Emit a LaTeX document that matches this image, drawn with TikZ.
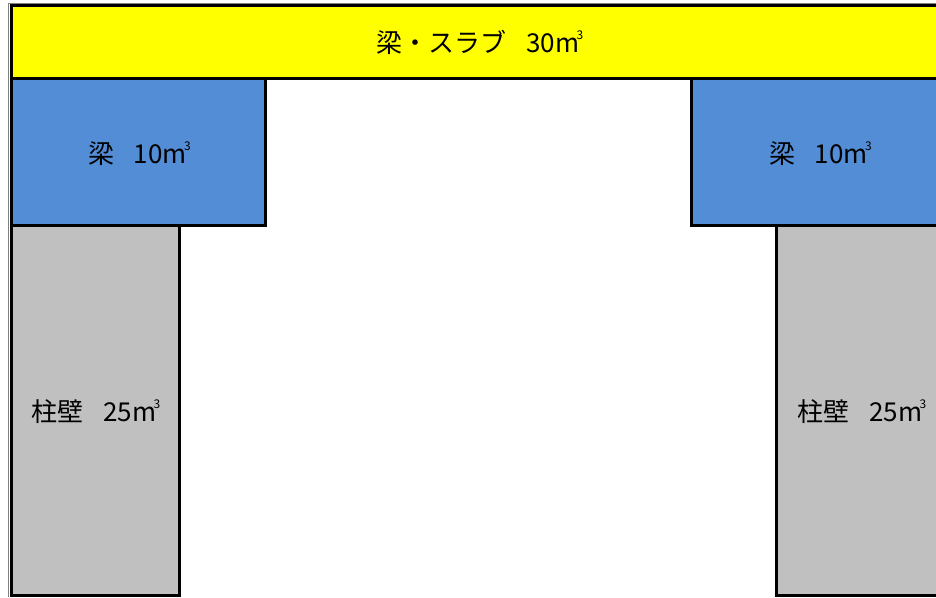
\documentclass[tikz,border=0pt]{standalone}
\usepackage{fontspec}
\newfontfamily\jpfont{Noto Sans CJK JP}
\newcommand{\cubicm}{m\kern-0.1em\raisebox{0.5em}{\fontsize{12}{12}\selectfont 3}}
\newcommand{\gapsp}{\hspace{0.75em}}
\definecolor{beamblue}{RGB}{83,141,213}
\definecolor{wallgray}{RGB}{192,192,192}
\definecolor{slabyellow}{RGB}{255,255,0}
\begin{document}
\begin{tikzpicture}[x=1pt,y=-1pt,
  part/.style={draw=black, line width=3pt},
  lbl/.style={font=\jpfont\fontsize{26}{26}\selectfont, inner sep=0pt, anchor=base}]
\useasboundingbox (0,0) rectangle (936,597);
\begin{scope}
\clip (0,0) rectangle (936,597);
\fill[white] (0,0) rectangle (936,597);
\draw[gray, line width=1pt] (8,597) -- (8,3.5) -- (936,3.5);
\draw[part, fill=slabyellow] (11,5.5) rectangle (980,78.5);
\draw[part, fill=beamblue] (11,78.5) rectangle (265.5,225.5);
\draw[part, fill=beamblue] (691.5,78.5) rectangle (980,225.5);
\draw[part, fill=wallgray] (11,225.5) rectangle (179.5,595.5);
\draw[part, fill=wallgray] (776.5,225.5) rectangle (980,595.5);
\end{scope}
\node[lbl] (slab) at (480,52) {梁・スラブ\gapsp 30\cubicm};
\node[lbl] (beamL) at (139.5,163) {梁\gapsp 10\cubicm};
\node[lbl] (beamR) at (820.5,163) {梁\gapsp 10\cubicm};
\node[lbl] (wallL) at (96,421) {柱壁\gapsp 25\cubicm};
\node[lbl] (wallR) at (862,421) {柱壁\gapsp 25\cubicm};
\end{tikzpicture}
\end{document}
